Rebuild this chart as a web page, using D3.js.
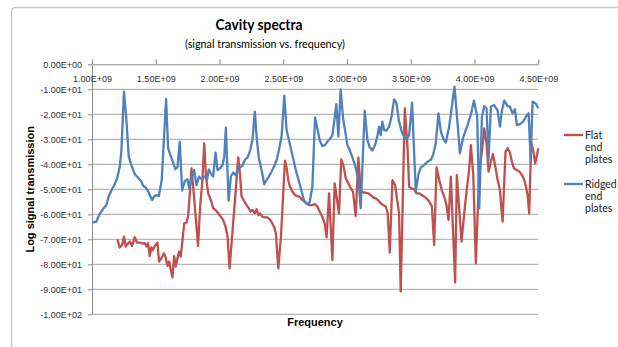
<!DOCTYPE html>
<html>
<head>
<meta charset="utf-8">
<script src="https://cdn.jsdelivr.net/npm/d3@7"></script>
<style>
  html, body { margin: 0; padding: 0; background: #fff; }
  svg { display: block; }
</style>
</head>
<body>
<svg id="chart" width="618" height="347"></svg>
<script>
// frequency in GHz, signal in log units
const ridgedFreq = [
  1.000, 1.034, 1.060, 1.086, 1.113, 1.131, 1.152, 1.178, 1.199, 1.217, 1.230, 1.251, 1.270, 1.288,
  1.309, 1.330, 1.348, 1.366, 1.387, 1.403, 1.419, 1.435, 1.453, 1.471, 1.487, 1.505, 1.524, 1.547,
  1.581, 1.597, 1.618, 1.636, 1.654, 1.670, 1.688, 1.707, 1.728, 1.749, 1.762, 1.783, 1.801, 1.819,
  1.840, 1.859, 1.885, 1.903, 1.916, 1.932, 1.950, 1.969, 1.984, 2.005, 2.024, 2.037, 2.050, 2.071,
  2.089, 2.107, 2.126, 2.147, 2.162, 2.178, 2.199, 2.220, 2.241, 2.259, 2.277, 2.293, 2.309, 2.330,
  2.351, 2.369, 2.387, 2.408, 2.429, 2.448, 2.466, 2.487, 2.508, 2.526, 2.547, 2.565, 2.586, 2.605,
  2.623, 2.644, 2.665, 2.686, 2.707, 2.728, 2.749, 2.767, 2.785, 2.806, 2.827, 2.846, 2.864, 2.885,
  2.901, 2.916, 2.932, 2.950, 2.969, 2.984, 3.003, 3.021, 3.042, 3.063, 3.081, 3.094, 3.107, 3.139,
  3.160, 3.178, 3.199, 3.220, 3.238, 3.251, 3.264, 3.277, 3.291, 3.309, 3.330, 3.348, 3.369, 3.387,
  3.408, 3.429, 3.448, 3.469, 3.487, 3.510, 3.539, 3.560, 3.579, 3.597, 3.618, 3.639, 3.657, 3.675,
  3.696, 3.717, 3.736, 3.754, 3.775, 3.801, 3.843, 3.869, 3.885, 3.911, 3.942, 3.974, 3.995, 4.021,
  4.037, 4.058, 4.076, 4.094, 4.110, 4.128, 4.154, 4.181, 4.199, 4.215, 4.233, 4.259, 4.277, 4.298,
  4.317, 4.332, 4.356, 4.382, 4.403, 4.424, 4.440, 4.455, 4.482, 4.500
];
const ridgedSignal = [
  -63.3, -62.9, -59.9, -57.9, -56.3, -52.9, -50.5, -48.0, -45.2, -41.2, -34.9, -10.9, -22.3, -36.9,
  -40.3, -43.3, -44.7, -45.6, -46.9, -48.7, -49.2, -50.3, -52.3, -54.3, -52.9, -52.3, -52.7, -46.3,
  -13.9, -33.6, -36.7, -39.3, -42.0, -41.2, -30.9, -50.5, -46.7, -46.0, -49.6, -45.2, -42.3, -48.3,
  -44.9, -45.9, -44.9, -46.0, -42.0, -43.6, -44.9, -35.3, -42.3, -41.6, -40.3, -37.2, -25.3, -54.5,
  -44.9, -43.3, -44.3, -41.6, -41.2, -40.7, -38.3, -37.2, -34.3, -30.0, -18.9, -30.3, -37.6, -42.3,
  -48.0, -46.3, -44.9, -42.9, -40.7, -38.3, -34.3, -28.7, -12.5, -26.3, -30.9, -34.9, -39.6, -43.6,
  -46.9, -50.9, -54.9, -55.9, -55.3, -48.9, -21.2, -25.6, -30.3, -32.7, -32.3, -30.9, -30.0, -28.3,
  -22.3, -15.9, -28.9, -10.0, -21.6, -26.3, -32.3, -34.3, -37.2, -40.3, -44.3, -48.9, -57.6, -18.5,
  -30.3, -33.2, -34.5, -32.3, -28.7, -24.9, -28.3, -22.9, -26.3, -26.5, -24.9, -21.2, -14.0, -15.3,
  -22.9, -26.9, -29.2, -30.0, -28.3, -15.3, -50.9, -43.9, -41.2, -40.7, -39.6, -38.7, -38.3, -36.3,
  -31.6, -19.6, -26.9, -29.6, -31.3, -24.9, -8.9, -24.9, -35.6, -29.2, -24.7, -19.6, -14.5, -20.9,
  -57.6, -20.9, -16.7, -17.6, -38.3, -16.9, -16.3, -18.5, -24.9, -18.5, -14.5, -16.7, -16.9, -19.6,
  -18.0, -24.3, -23.9, -22.9, -20.9, -19.6, -38.3, -14.9, -15.9, -17.6
];

const flatFreq = [
  1.199, 1.217, 1.236, 1.251, 1.264, 1.283, 1.298, 1.314, 1.335, 1.353, 1.374, 1.393, 1.414, 1.427,
  1.440, 1.453, 1.466, 1.479, 1.492, 1.513, 1.526, 1.545, 1.563, 1.576, 1.592, 1.605, 1.615, 1.631,
  1.644, 1.657, 1.670, 1.683, 1.696, 1.709, 1.723, 1.741, 1.754, 1.767, 1.780, 1.796, 1.812, 1.832,
  1.848, 1.864, 1.880, 1.893, 1.911, 1.932, 1.950, 1.969, 1.990, 2.010, 2.029, 2.047, 2.063, 2.079,
  2.115, 2.147, 2.160, 2.173, 2.191, 2.207, 2.225, 2.243, 2.259, 2.277, 2.291, 2.304, 2.319, 2.335,
  2.356, 2.374, 2.395, 2.414, 2.429, 2.442, 2.461, 2.482, 2.513, 2.526, 2.539, 2.552, 2.571, 2.592,
  2.613, 2.631, 2.649, 2.670, 2.688, 2.709, 2.728, 2.749, 2.767, 2.785, 2.806, 2.825, 2.840, 2.859,
  2.885, 2.903, 2.937, 2.955, 2.971, 2.990, 3.010, 3.029, 3.047, 3.068, 3.089, 3.107, 3.126, 3.147,
  3.168, 3.186, 3.204, 3.225, 3.243, 3.264, 3.283, 3.304, 3.319, 3.335, 3.356, 3.377, 3.395, 3.408,
  3.421, 3.453, 3.474, 3.487, 3.505, 3.526, 3.545, 3.565, 3.586, 3.605, 3.623, 3.644, 3.665, 3.683,
  3.702, 3.723, 3.743, 3.762, 3.780, 3.796, 3.814, 3.848, 3.861, 3.898, 3.919, 3.937, 3.958, 3.971,
  3.990, 4.010, 4.037, 4.058, 4.076, 4.094, 4.110, 4.128, 4.144, 4.162, 4.181, 4.199, 4.220, 4.243,
  4.259, 4.277, 4.293, 4.309, 4.330, 4.351, 4.372, 4.390, 4.403, 4.416, 4.429, 4.444, 4.461, 4.476,
  4.490, 4.500
];
const flatSignal = [
  -70.0, -73.3, -72.3, -68.9, -72.9, -71.6, -70.9, -72.7, -69.2, -71.3, -71.3, -71.6, -71.5, -72.9,
  -71.6, -76.7, -73.2, -74.3, -72.7, -71.3, -78.9, -77.6, -75.6, -76.9, -80.7, -78.9, -81.6, -85.2,
  -76.7, -80.9, -77.6, -74.9, -76.9, -70.5, -63.6, -63.3, -60.7, -51.6, -41.6, -50.3, -60.3, -72.7,
  -56.9, -47.6, -31.6, -44.3, -51.6, -54.3, -57.6, -58.3, -59.6, -60.9, -62.3, -64.9, -68.9, -81.6,
  -58.3, -37.2, -43.6, -52.9, -54.5, -55.9, -57.2, -58.9, -58.3, -59.6, -58.0, -60.3, -59.6, -60.9,
  -61.2, -61.2, -62.0, -63.6, -65.2, -67.6, -81.6, -68.9, -38.5, -41.2, -46.3, -48.9, -50.9, -52.3,
  -52.7, -53.2, -54.3, -54.9, -55.9, -56.3, -56.3, -55.9, -56.9, -58.9, -60.9, -63.6, -69.2, -51.6,
  -78.3, -47.6, -59.6, -38.0, -40.3, -45.6, -47.6, -49.6, -50.9, -60.7, -37.3, -50.3, -51.3, -51.3,
  -51.6, -52.3, -53.2, -53.6, -54.3, -55.6, -56.3, -56.9, -59.6, -75.3, -46.3, -48.3, -54.9, -59.6,
  -90.9, -17.6, -32.9, -48.9, -49.6, -50.0, -51.6, -51.6, -52.3, -52.9, -53.6, -54.9, -56.7, -72.3,
  -41.2, -46.3, -50.3, -52.9, -56.3, -62.3, -44.9, -87.3, -44.3, -70.9, -59.6, -50.9, -42.0, -32.3,
  -44.3, -79.6, -42.3, -34.9, -25.6, -31.6, -42.9, -38.9, -35.9, -40.7, -46.3, -50.3, -62.9, -34.9,
  -33.6, -35.3, -38.9, -41.6, -42.3, -42.9, -44.3, -46.3, -48.9, -52.3, -59.6, -31.2, -34.9, -39.6,
  -36.3, -33.6
];

const freqTicks = [1.0, 1.5, 2.0, 2.5, 3.0, 3.5, 4.0, 4.5];
const signalTicks = [0, -10, -20, -30, -40, -50, -60, -70, -80, -90, -100];

const seriesInfo = [
  { name: ["Flat", "end", "plates"], freq: flatFreq, signal: flatSignal, color: "#c0504d" },
  { name: ["Ridged", "end", "plates"], freq: ridgedFreq, signal: ridgedSignal, color: "#4f81bd" }
];

const svg = d3.select("#chart");
const plot = { left: 92, right: 538.3, top: 64.3, bottom: 314.3 };

// excel style 1.00E+09
function sci(v) {
  const parts = v.toExponential(2).split("e");
  const e = +parts[1];
  return parts[0] + "E" + (e < 0 ? "-" : "+") + String(Math.abs(e)).padStart(2, "0");
}

const x = d3.scaleLinear().domain([1.0, 4.5]).range([plot.left, plot.right]);
const y = d3.scaleLinear().domain([-100, 0]).range([plot.bottom, plot.top]);

// chart frame
svg.append("rect")
  .attr("x", 11.5).attr("y", 7.5)
  .attr("width", 640).attr("height", 360)
  .attr("rx", 4)
  .attr("fill", "none")
  .attr("stroke", "#c6c6c6")
  .attr("stroke-width", 1.3);

// gridlines
svg.append("g")
  .selectAll("line")
  .data(signalTicks.filter(d => d !== 0))
  .join("line")
  .attr("x1", plot.left).attr("x2", plot.right)
  .attr("y1", d => y(d)).attr("y2", d => y(d))
  .attr("stroke", "#a3a3a3")
  .attr("stroke-width", 1);

// y axis
const yAxis = svg.append("g")
  .attr("transform", `translate(${plot.left},0)`)
  .call(d3.axisLeft(y).tickValues(signalTicks).tickFormat(sci).tickSize(4).tickPadding(6).tickSizeOuter(0));

// x axis sits on the zero line, labels under it, ticks above
const xAxis = svg.append("g")
  .attr("transform", `translate(0,${plot.top})`)
  .call(d3.axisBottom(x).tickValues(freqTicks).tickFormat(d => sci(d * 1e9)).tickSize(-5).tickPadding(11).tickSizeOuter(0));

[xAxis, yAxis].forEach(g => {
  g.select(".domain").attr("stroke", "#8c8c8c");
  g.selectAll(".tick line").attr("stroke", "#8c8c8c");
  g.selectAll(".tick text")
    .attr("font-family", "'Liberation Sans', Arial, sans-serif")
    .attr("font-size", 9)
    .attr("fill", "#333");
});

// series
const line = d3.line()
  .x(d => x(d[0]))
  .y(d => y(d[1]));

seriesInfo.forEach(s => {
  svg.append("path")
    .datum(s.freq.map((f, i) => [f, s.signal[i]]))
    .attr("d", line)
    .attr("fill", "none")
    .attr("stroke", s.color)
    .attr("stroke-width", 2.3)
    .attr("stroke-linejoin", "round");
});

// titles
svg.append("text")
  .attr("x", 259).attr("y", 29.5)
  .attr("text-anchor", "middle")
  .attr("font-family", "Lato, sans-serif")
  .attr("font-weight", "bold")
  .attr("font-size", 14.5)
  .attr("fill", "#000")
  .attr("textLength", 87)
  .attr("lengthAdjust", "spacingAndGlyphs")
  .text("Cavity spectra");

svg.append("text")
  .attr("x", 265).attr("y", 48)
  .attr("text-anchor", "middle")
  .attr("font-family", "Lato, sans-serif")
  .attr("font-size", 12)
  .attr("fill", "#000")
  .attr("textLength", 160)
  .attr("lengthAdjust", "spacingAndGlyphs")
  .text("(signal transmission vs. frequency)");

svg.append("text")
  .attr("x", 315).attr("y", 326)
  .attr("text-anchor", "middle")
  .attr("font-family", "'Liberation Sans', Arial, sans-serif")
  .attr("font-weight", "bold")
  .attr("font-size", 11)
  .text("Frequency");

svg.append("text")
  .attr("transform", `translate(34,${(plot.top + plot.bottom) / 2}) rotate(-90)`)
  .attr("text-anchor", "middle")
  .attr("font-family", "'Liberation Sans', Arial, sans-serif")
  .attr("font-weight", "bold")
  .attr("font-size", 11)
  .text("Log signal transmission");

// legend
const legendTop = [135, 184];
seriesInfo.forEach((s, i) => {
  const g = svg.append("g").attr("transform", `translate(564,${legendTop[i]})`);
  g.append("line")
    .attr("x1", 0).attr("x2", 19)
    .attr("stroke", s.color)
    .attr("stroke-width", 2.3);
  g.append("text")
    .attr("x", 21).attr("y", 3.5)
    .attr("font-family", "Lato, sans-serif")
    .attr("font-size", 10.5)
    .attr("fill", "#222")
    .selectAll("tspan")
    .data(s.name)
    .join("tspan")
    .attr("x", 21)
    .attr("dy", (d, j) => j === 0 ? 0 : 12)
    .text(d => d);
});
</script>
</body>
</html>
